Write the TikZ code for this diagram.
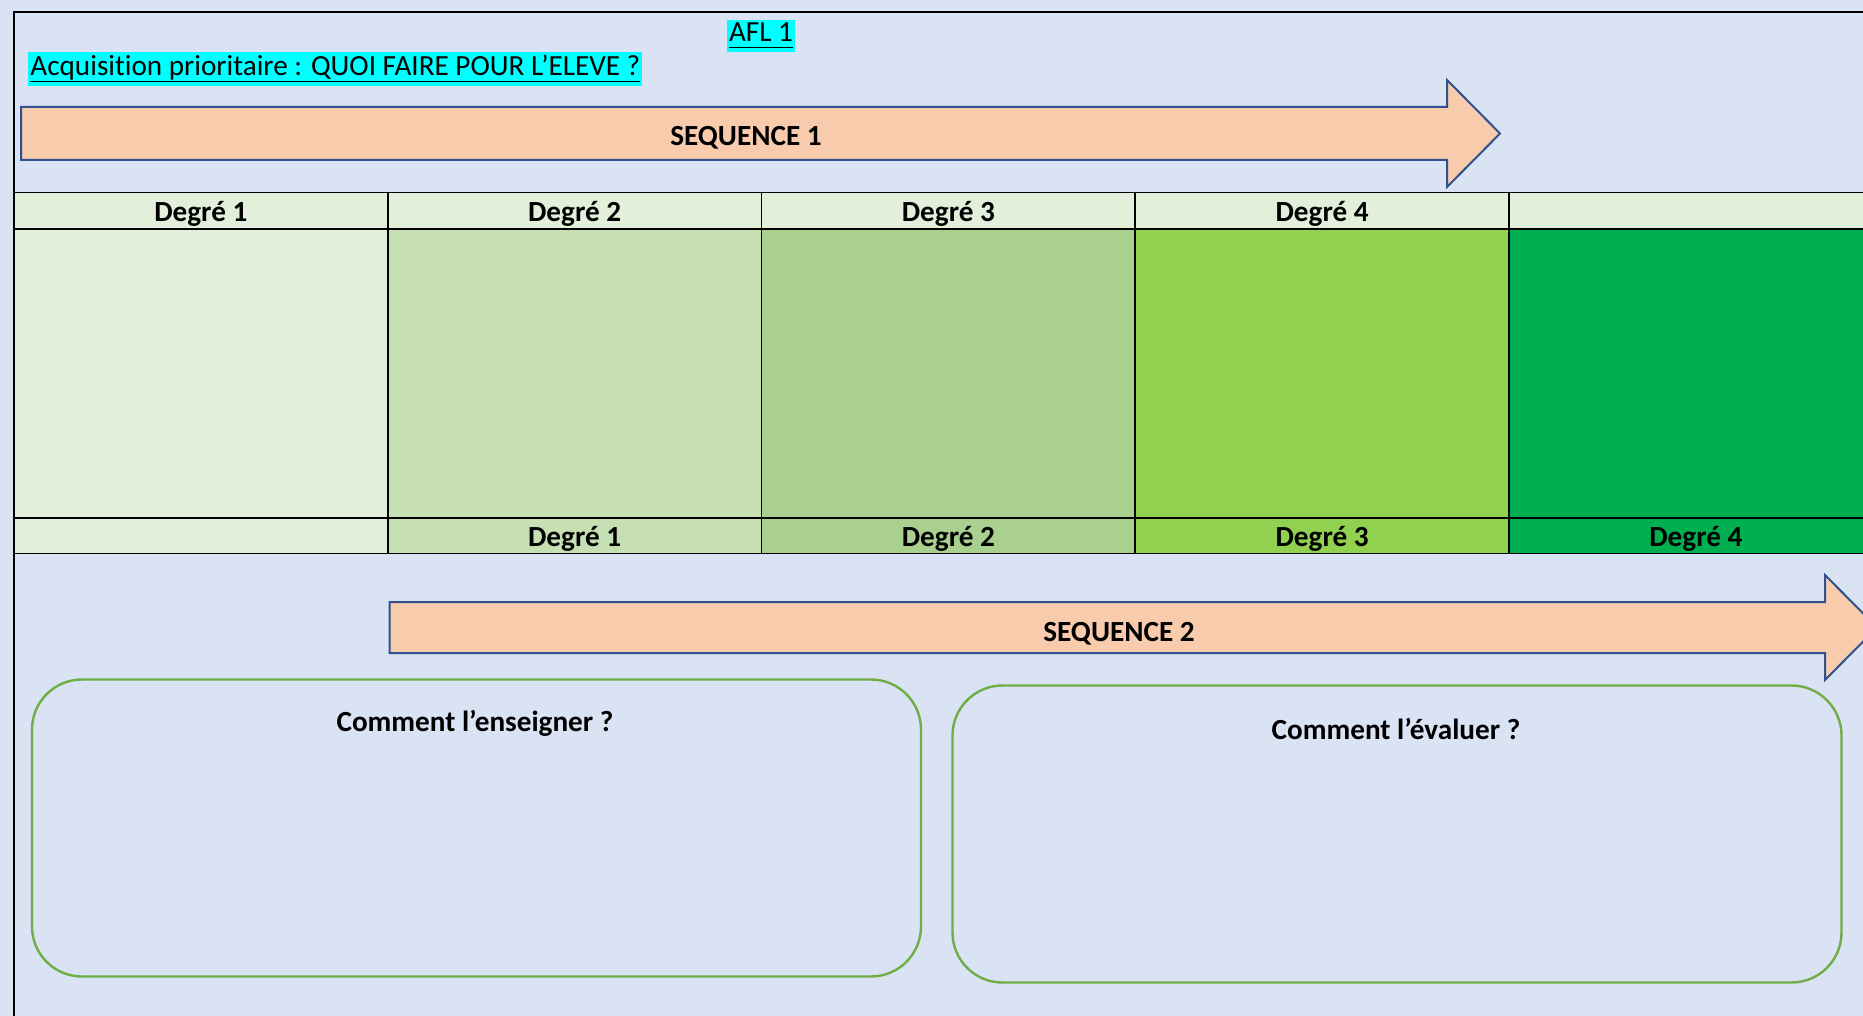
\documentclass[tikz,border=0pt]{standalone}
\usepackage{fontspec}
\setmainfont{Carlito}[Ligatures={TeX,NoCommon}]
\definecolor{fond}{HTML}{DAE3F3}
\definecolor{saumon}{HTML}{F8CBAD}
\definecolor{bleufleche}{HTML}{2F528F}
\definecolor{vertcadre}{HTML}{70AD47}
\definecolor{vertA}{HTML}{E2EFDA}
\definecolor{vertB}{HTML}{C6E0B4}
\definecolor{vertC}{HTML}{A9D08E}
\definecolor{vertD}{HTML}{92D050}
\definecolor{vertE}{HTML}{00B050}
\definecolor{surligne}{HTML}{00FFFF}
\newcommand{\souligne}[1]{\underline{\raisebox{0pt}[\height][1.3pt]{#1}}}

\begin{document}
\begin{tikzpicture}[x=0.5pt,y=-0.5pt,
  texte/.style={font=\fontsize{14.6}{17}\selectfont},
  gras/.style={font=\fontsize{14.6}{17}\selectfont\bfseries},
  marque/.style={texte,fill=surligne,inner xsep=1pt,inner ysep=1.8pt},
  fleche/.style={fill=saumon,draw=bleufleche,line width=1pt},
  trait/.style={line width=0.9pt},
  boite/.style={draw=vertcadre,line width=1.2pt,rounded corners=25pt,minimum width=444.5pt,minimum height=148.5pt}]

\fill[fond] (0,0) rectangle (1863,1016);
\useasboundingbox (0,0) rectangle (1863,1016);
\clip (0,0) rectangle (1863,1016);

% titre
\node[marque,anchor=base] (afl) at (761,42) {\souligne{AFL 1}};
\node[marque,anchor=base west] (acquis) at (28,76) {\souligne{Acquisition prioritaire : QUOI FAIRE POUR L’ELEVE ?}};

% sequence 1
\draw[fleche] (21,107) -- (1447,107) -- (1447,80) -- (1500,133.5) -- (1447,187) -- (1447,160) -- (21,160) -- cycle;
\node[gras] (seq1) at (746,137.5) {SEQUENCE 1};

% tableau des degres
\fill[vertA] (14,192.5) rectangle (1863,229);
\foreach \i/\c in {0/vertA,1/vertB,2/vertC,3/vertD,4/vertE}
	\fill[\c] ({14+\i*373.75},229) rectangle ({387.75+\i*373.75},553.5);
\foreach \y in {192.5,229,518,553.5}
	\draw[trait] (14,\y) -- (1863,\y);
\foreach \i in {1,...,4} {
	\draw[trait] ({14+\i*373.75},192.5) -- ({14+\i*373.75},553.5);
	\node[gras] (haut\i) at ({14+(\i-0.5)*373.75},213.5) {Degré \i};
	\node[gras] (bas\i) at ({14+(\i+0.5)*373.75},538.5) {Degré \i};
	}

% cadre
\draw[trait] (14,1016) -- (14,12) -- (1863,12);

% sequence 2
\draw[fleche] (389.5,602) -- (1825,602) -- (1825,575) -- (1877,627.5) -- (1825,680) -- (1825,653) -- (389.5,653) -- cycle;
\node[gras] (seq2) at (1119,633.5) {SEQUENCE 2};

% enseigner / evaluer
\node[boite] (enseigner) at (476.5,828) {};
\node[gras] (titreEns) at (475,723) {Comment l’enseigner ?};
\node[boite] (evaluer) at (1397,834) {};
\node[gras] (titreEval) at (1396,728.5) {Comment l’évaluer ?};

\end{tikzpicture}
\end{document}
